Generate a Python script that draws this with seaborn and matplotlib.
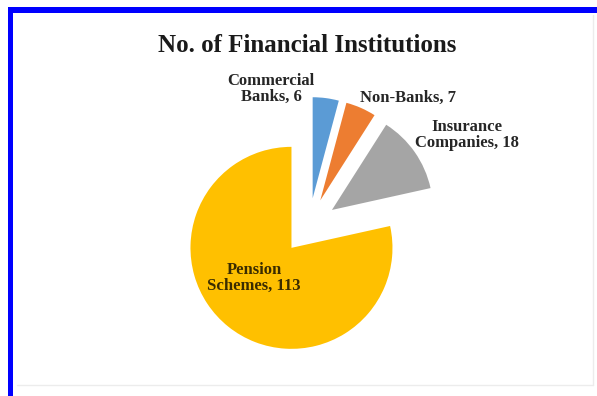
import matplotlib
matplotlib.use("Agg")
import matplotlib.pyplot as plt
import seaborn as sns
from matplotlib.patches import Rectangle

# Data
categories = ["Commercial\nBanks", "Non-Banks", "Insurance\nCompanies", "Pension\nSchemes"]
counts = [6, 7, 18, 113]
slice_colors = ["#5B9BD5", "#ED7D31", "#A5A5A5", "#FFC000"]
chart_title = "No. of Financial Institutions"

sns.set_theme(style="white")
plt.rcParams["font.family"] = ["Liberation Serif", "DejaVu Serif"]

W, H = 597, 396
fig = plt.figure(figsize=(W / 100, H / 100), dpi=100)
fig.patch.set_facecolor("white")
ax = fig.add_axes([0, 0, 1, 1])

# Pie in pixel-like data units (y measured upward)
center = (309, H - 226)
radius = 101
explode_px = 28
wedges, _ = ax.pie(
    counts,
    colors=sns.color_palette(slice_colors),
    startangle=90,
    counterclock=False,
    explode=[explode_px] * len(counts),
    radius=radius,
    center=center,
    wedgeprops=dict(linewidth=0),
)
ax.set_xlim(0, W)
ax.set_ylim(0, H)
ax.set_aspect("equal")
ax.axis("off")

# Data labels
label_xy = [(271, 89), (408, 98), (467, 135), (254, 278)]
label_colors = ["#262626", "#262626", "#262626", "#3a2c00"]
for cat, n, (lx, ly), c in zip(categories, counts, label_xy, label_colors):
    ax.text(lx, H - ly, f"{cat}, {n}", ha="center", va="center",
            fontsize=12, fontweight="bold", color=c, linespacing=1.05)

# Title
ax.text(307, H - 45, chart_title, ha="center", va="center",
        fontsize=18, fontweight="bold", color="#1a1a1a")

# Frame: blue top and left edges, faint inner outline
ax.add_patch(Rectangle((8, H - 13), W - 8, 6, color="#0000FF", lw=0))
ax.add_patch(Rectangle((8, 0), 5, H - 7, color="#0000FF", lw=0))
ax.plot([593, 593], [H - 15, H - 385], color="#ececec", lw=1)
ax.plot([17, 593], [H - 385, H - 385], color="#ececec", lw=1)

fig.savefig("out.png", dpi=100, facecolor="white")
